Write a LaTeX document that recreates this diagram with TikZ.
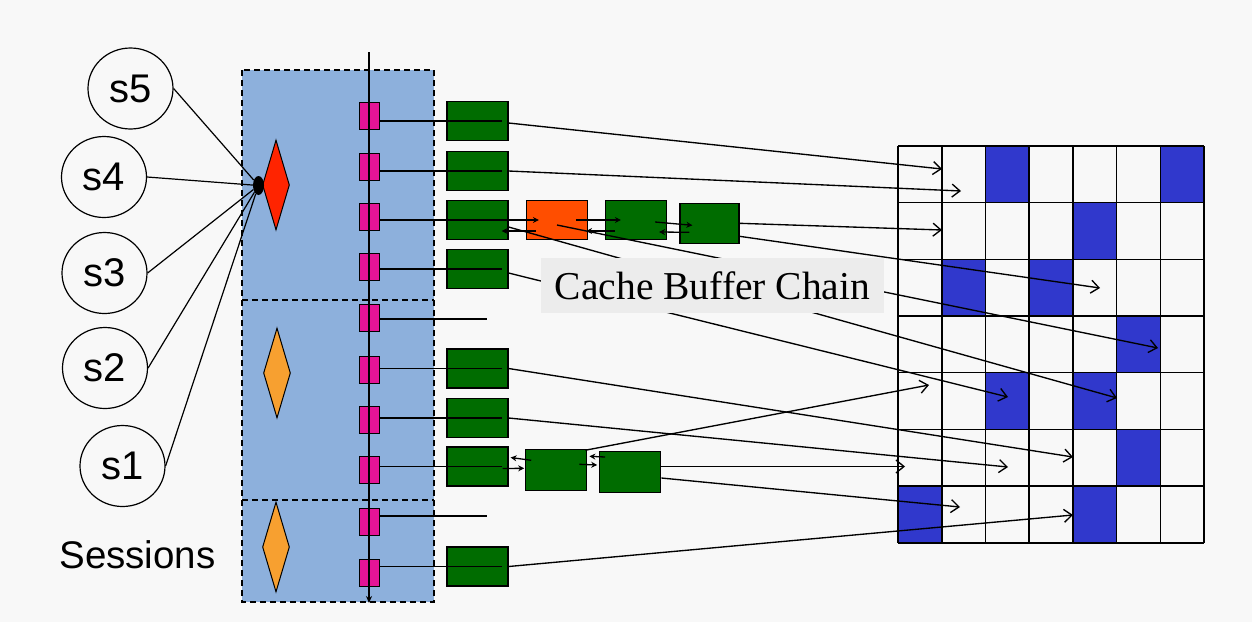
\documentclass[tikz,border=0pt]{standalone}
\usepackage{fontspec}
\setmainfont{Liberation Sans}
\newfontfamily\serifcbc{Liberation Serif}
\usetikzlibrary{shapes.geometric,arrows.meta,calc}
\definecolor{bg}{RGB}{248,248,248}
\definecolor{panelblue}{RGB}{141,176,220}
\definecolor{magbox}{RGB}{228,20,150}
\definecolor{bufgreen}{RGB}{0,108,0}
\definecolor{hotbuf}{RGB}{255,78,0}
\definecolor{latchred}{RGB}{255,36,0}
\definecolor{latchorange}{RGB}{247,160,48}
\definecolor{cellblue}{RGB}{48,56,204}
\definecolor{labelgray}{RGB}{236,236,236}
\begin{document}
\begin{tikzpicture}[x=1pt,y=-1pt,
 sess/.style={ellipse,draw=black,line width=1.2pt,minimum width=85pt,minimum height=81pt,inner sep=0pt,font=\fontsize{40}{44}\selectfont},
 latch/.style={diamond,draw=black,line width=1pt,minimum width=27pt,minimum height=90pt,inner sep=0pt},
 slot/.style={rectangle,draw=black,line width=1pt,fill=magbox,minimum width=20pt,minimum height=27pt,inner sep=0pt},
 buf/.style={rectangle,draw=black,line width=1.2pt,fill=bufgreen,minimum width=61pt,minimum height=39pt,inner sep=0pt},
 link/.style={line width=1.4pt,draw=black},
 ptr/.style={line width=1.35pt,-{Straight Barb[length=8pt,width=13pt]}},
 chainptr/.style={line width=1.3pt,-{Stealth[length=6pt,width=6pt]}},
 panelline/.style={line width=1.3pt,dash pattern=on 6pt off 4pt},
]
\fill[bg] (0,0) rectangle (1252,622);
\useasboundingbox (0,0) rectangle (1252,622);

% sessions
\node[sess] (s5) at (130.5,88.5) {s5};
\node[sess] (s4) at (104,177) {s4};
\node[sess] (s3) at (104.5,273) {s3};
\node[sess] (s2) at (105,368) {s2};
\node[sess] (s1) at (122.5,466) {s1};
\node[anchor=base,font=\fontsize{38.5}{40}\selectfont,inner sep=0pt] (sesslabel) at (137.5,568) {Sessions};

% panel
\fill[panelblue] (242,70) rectangle (434,602);
\draw[panelline] (242,70) rectangle (434,602);
\draw[panelline] (242,300) -- (434,300);
\draw[panelline] (242,500) -- (434,500);

% latches
\node[latch,fill=latchred] (L1) at (276,185) {};
\node[latch,fill=latchorange] (L2) at (277,373) {};
\node[latch,fill=latchorange] (L3) at (276,547) {};
\node[ellipse,fill=black,minimum width=11pt,minimum height=19pt,inner sep=0pt] (hub) at (258.5,185.5) {};
\foreach \s in {s1,s2,s3,s4,s5} \draw[line width=1.2pt] (\s.east) -- (hub);

% hash slots
\foreach \i/\y in {1/116,2/167,3/217,4/267,5/318,6/370,7/420,8/470,9/522,10/573}
  \node[slot] (m\i) at (369,\y) {};
\coordinate (vt) at (369,52);
\coordinate (vb) at (369,603);
\draw[line width=1.3pt,-{Stealth[length=7pt,width=6pt]}] (vt) -- (vb);

% buffers
\node[buf] (r1) at (477.5,121) {};
\node[buf] (r2) at (477.5,171) {};
\node[buf] (r3) at (477.5,220) {};
\node[buf,fill=hotbuf] (o3) at (557,220) {};
\node[buf,minimum width=61pt] (c2) at (636,220) {};
\node[buf,minimum width=59pt,minimum height=40pt] (c3) at (709.5,223.3) {};
\node[buf] (r4) at (477.5,269) {};
\node[buf] (r6) at (477.5,368.5) {};
\node[buf] (r7) at (477.5,418) {};
\node[buf] (r8) at (477.5,466.5) {};
\node[buf,minimum height=41pt] (b2) at (556.3,470.3) {};
\node[buf,minimum height=41pt] (b3) at (630.3,472) {};
\node[buf] (r10) at (477.5,566.5) {};
\coordinate (e5) at (487,319);
\coordinate (e9) at (487,516);

% slot to buffer links
\foreach \m/\r in {m1/r1,m2/r2,m3/r3,m4/r4,m6/r6,m7/r7,m8/r8,m10/r10}
  \draw[link] (\m.east |- \r.center) -- ([xshift=-7pt]\r.east);
\draw[link] (m5.east |- e5) -- (e5);
\draw[link] (m9.east |- e9) -- (e9);

% chain pointers row 3
\draw[chainptr] ([xshift=-14pt]r3.east) -- ([xshift=13pt]o3.west);
\draw[chainptr] ([xshift=10pt,yshift=-11pt]o3.west) -- ([xshift=-7pt,yshift=-11pt]r3.east);
\draw[chainptr] ([xshift=-12pt]o3.east) -- ([xshift=16pt]c2.west);
\draw[chainptr] ([xshift=10pt,yshift=-11pt]c2.west) -- ([xshift=-2pt,yshift=-11pt]o3.east);
\draw[chainptr] ([xshift=-12pt,yshift=-2pt]c2.east) -- ([xshift=13pt,yshift=-2pt]c3.west);
\draw[chainptr] ([xshift=10pt,yshift=-9pt]c3.west) -- ([xshift=-8pt,yshift=-12pt]c2.east);
% chain pointers row 8
\draw[chainptr] ([xshift=6pt,yshift=10pt]b2.west) -- ([xshift=2pt,yshift=9pt]r8.east);
\draw[chainptr] ([xshift=-6pt,yshift=-2pt]r8.east) -- ([xshift=-1pt,yshift=2pt]b2.west);
\draw[chainptr] ([xshift=6pt,yshift=15pt]b3.west) -- ([xshift=2pt,yshift=14pt]b2.east);
\draw[chainptr] ([xshift=-8pt,yshift=6pt]b2.east) -- ([xshift=-2pt,yshift=7pt]b3.west);

% grid
\foreach \r/\c in {0/2,0/6,1/4,2/1,2/3,3/5,4/2,4/4,5/5,6/0,6/4}
  \fill[cellblue] ({898+\c*43.714},{146+\r*56.67}) rectangle ++(43.714,56.67);
\foreach \c in {0,...,7} \draw[line width=1.6pt] ({898+\c*43.714},146) -- ++(0,396.7);
\foreach \r in {0,...,7} \draw[line width=1.6pt] (898,{146+\r*56.67}) -- ++(306,0);

% targets
\coordinate (t1) at (942,169);
\coordinate (t2) at (961,191);
\coordinate (t3) at (942,230);
\coordinate (t4) at (1100,288);
\coordinate (t5) at (1158,348);
\coordinate (t6) at (929,385);
\coordinate (t7) at (1008,397);
\coordinate (t8) at (1117,398);
\coordinate (t9) at (1073,457);
\coordinate (t10) at (1008,467);
\coordinate (t11) at (905,466.5);
\coordinate (t12) at (960,507);
\coordinate (t13) at (1073,515);

\draw[ptr] ([yshift=-2pt]r1.east) -- (t1);
\draw[ptr] (r2.east) -- (t2);
\draw[ptr] (c3.east) -- (t3);
\draw[ptr] ([yshift=-13pt]c3.east) -- (t4);
\draw[ptr] ([yshift=-5pt]o3.center) -- (t5);
\draw[ptr] ([yshift=-7pt]r3.east) -- (t8);
\draw[ptr] ([yshift=-4pt]r4.east) -- (t7);
\draw[ptr] (r6.east) -- (t9);
\draw[ptr] (r7.east) -- (t10);
\draw[ptr] ([yshift=5.5pt]b3.east) -- (t11);
\draw[ptr] ([yshift=-6pt]b3.east) -- (t12);
\draw[ptr] ([xshift=-2pt,yshift=-1pt]b2.north east) -- (t6);
\draw[ptr] (r10.east) -- (t13);

% label
\node[fill=labelgray,minimum width=343pt,minimum height=55pt,inner sep=0pt,font=\serifcbc\fontsize{39.5}{41}\selectfont] (cbc) at (712.5,285.5) {Cache Buffer Chain};
\end{tikzpicture}
\end{document}
